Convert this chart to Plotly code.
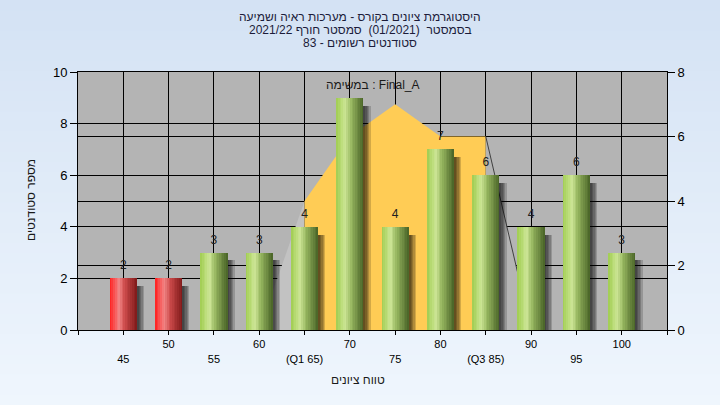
import plotly.graph_objects as go

# ---------------- data ----------------
grade_values = [45, 50, 55, 60, 65, 70, 75, 80, 85, 90, 95, 100]
grade_labels = ["45", "50", "55", "60", "(Q1 65)", "70", "75", "80", "(Q3 85)", "90", "95", "100"]
counts = [2, 2, 3, 3, 4, 9, 4, 7, 6, 4, 6, 3]
bar_labels = ["2", "2", "3", "3", "4", "", "4", "7", "6", "4", "6", "3"]
passing_grade = 55

# distribution area (right axis)
area_grades = [60, 65, 70, 75, 80, 85, 90]
area_values = [0, 4, 6, 7, 6, 6, 0]
q1, q3 = 65, 85

title_lines = [
    "היסטוגרמת ציונים בקורס - מערכות ראיה ושמיעה",
    "בסמסטר  (01/2021)  סמסטר חורף 2021/22",
    "סטודנטים רשומים - 83",
]
legend_text = "במשימה : Final_A"
x_title = "טווח ציונים"
y_title = "מספר סטודנטים"

# ---------------- style helpers ----------------
FONT = "Liberation Sans, DejaVu Sans, Arial, sans-serif"
PLOT_BG = "#b4b4b4"
ORANGE = "#ffcc55"


def interp(stops, t):
    for (t0, c0), (t1, c1) in zip(stops, stops[1:]):
        if t0 <= t <= t1:
            f = (t - t0) / (t1 - t0) if t1 > t0 else 0
            return "rgb(%d,%d,%d)" % tuple(round(a + (b - a) * f) for a, b in zip(c0, c1))
    return "rgb(%d,%d,%d)" % stops[-1][1]


green_stops = [(0, (160, 205, 80)), (0.33, (205, 230, 150)), (0.55, (150, 182, 95)), (1, (72, 98, 38))]
red_stops = [(0, (255, 28, 28)), (0.33, (242, 135, 135)), (0.55, (205, 75, 75)), (1, (125, 25, 25))]

fig = go.Figure()

# ---------------- area (right axis) ----------------
low = [(g, v) for g, v in zip(area_grades, area_values) if g <= q1]
mid = [(g, v) for g, v in zip(area_grades, area_values) if q1 <= g <= q3]
up = [(g, v) for g, v in zip(area_grades, area_values) if g >= q3]

fig.add_trace(go.Scatter(x=[p[0] for p in low], y=[p[1] for p in low], yaxis="y2",
                         mode="lines", line=dict(width=0, color="#c2c2c2"),
                         fill="tozeroy", fillcolor="#c2c2c2", hoverinfo="skip", showlegend=False))
fig.add_trace(go.Scatter(x=[p[0] for p in mid], y=[p[1] for p in mid], yaxis="y2",
                         mode="lines", line=dict(width=0, color=ORANGE),
                         fill="tozeroy", fillcolor=ORANGE, hoverinfo="skip", showlegend=False))
fig.add_trace(go.Scatter(x=[p[0] for p in up], y=[p[1] for p in up], yaxis="y2",
                         mode="lines", line=dict(width=1, color="#404040"),
                         fill="tozeroy", fillcolor=PLOT_BG, hoverinfo="skip", showlegend=False))

# ---------------- bars (left axis) ----------------
BAR_W = 3.0
shadow_tops = [c - 0.3 for c in counts]
for shift in [0.8, 0.65, 0.5, 0.35, 0.2]:
    fig.add_trace(go.Bar(x=grade_values, y=shadow_tops, yaxis="y",
                         width=BAR_W, offset=-BAR_W / 2 + shift,
                         marker=dict(color="rgba(0,0,0,0.17)", line=dict(width=0)),
                         hoverinfo="skip", showlegend=False))

N = 16
step = BAR_W / N
for i in range(N):
    t = (i + 0.5) / N
    off = -BAR_W / 2 + i * step
    w = min(step * 1.5, BAR_W / 2 - off)
    cols = [interp(red_stops if g < passing_grade else green_stops, t) for g in grade_values]
    fig.add_trace(go.Bar(x=grade_values, y=counts, yaxis="y", width=w, offset=off,
                         marker=dict(color=cols, line=dict(width=0)),
                         hoverinfo="skip", showlegend=False))

fig.add_trace(go.Scatter(x=grade_values, y=counts, yaxis="y", mode="markers+text",
                         marker=dict(size=8, color="rgba(0,0,0,0)"),
                         text=bar_labels, textposition="top center",
                         textfont=dict(family=FONT, size=12, color="#202020"),
                         cliponaxis=False, hoverinfo="skip", showlegend=False))

# ---------------- background gradient ----------------
shapes = []
NB = 40
top_c = (212, 226, 244)
bot_c = (239, 246, 253)
L, R, T, B = 78, 667, 72, 330
PW, PH = R - L, B - T
for k in range(NB):
    f = k / (NB - 1)
    c = tuple(round(a + (b - a) * f) for a, b in zip(top_c, bot_c))
    y_top = k * 405 / NB
    y_bot = (k + 1) * 405 / NB + 1
    shapes.append(dict(type="rect", xref="paper", yref="paper", layer="below",
                       x0=(0 - L) / PW, x1=(720 - L) / PW,
                       y0=(B - y_bot) / PH, y1=(B - y_top) / PH,
                       line=dict(width=0), fillcolor="rgb(%d,%d,%d)" % c))
shapes.append(dict(type="rect", xref="paper", yref="paper", layer="below",
                   x0=0, x1=1, y0=0, y1=1, line=dict(width=0), fillcolor=PLOT_BG))

# ---------------- ticks ----------------
tickvals = [40] + grade_values + [105]
ticktext = [""]
for i, lab in enumerate(grade_labels):
    ticktext.append("<br>" + lab if i % 2 == 0 else lab)
ticktext.append("")


def px_x(px):
    return (px - L) / PW


def px_y(py):
    return (B - py) / PH


annotations = []
for j, line in enumerate(title_lines):
    annotations.append(dict(text=line, xref="paper", yref="paper", x=px_x(360), y=px_y(17 + 13 * j),
                            xanchor="center", yanchor="middle", showarrow=False,
                            font=dict(family=FONT, size=12, color="#1c1c3a")))
annotations.append(dict(text=legend_text, xref="paper", yref="paper", x=px_x(373), y=px_y(85),
                        xanchor="center", yanchor="middle", showarrow=False,
                        font=dict(family=FONT, size=12, color="#1a1a1a")))
annotations.append(dict(text=x_title, xref="paper", yref="paper", x=px_x(358), y=px_y(380),
                        xanchor="center", yanchor="middle", showarrow=False,
                        font=dict(family=FONT, size=12, color="#1a1a1a")))
annotations.append(dict(text=y_title, xref="paper", yref="paper", x=px_x(31), y=px_y(200),
                        xanchor="center", yanchor="middle", showarrow=False, textangle=-90,
                        font=dict(family=FONT, size=12, color="#1a1a1a")))

axis_common = dict(showgrid=True, gridcolor="black", gridwidth=1, zeroline=False,
                   showline=True, linecolor="black", linewidth=1,
                   ticks="outside", tickcolor="black")

fig.update_layout(
    width=720, height=405,
    margin=dict(l=L, r=720 - R, t=T, b=405 - B, pad=0),
    paper_bgcolor="rgb(226,236,249)",
    plot_bgcolor="rgba(0,0,0,0)",
    barmode="overlay",
    bargap=0,
    showlegend=False,
    hovermode=False,
    shapes=shapes,
    annotations=annotations,
    font=dict(family=FONT, color="black"),
    xaxis=dict(range=[40, 105], tickmode="array", tickvals=tickvals, ticktext=ticktext,
               tickangle=0, ticklen=4, mirror=True,
               tickfont=dict(family=FONT, size=11, color="black"), **axis_common),
    yaxis=dict(range=[0, 10], tickmode="array", tickvals=[0, 2, 4, 6, 8, 10], side="left",
               overlaying="y2", ticklen=7,
               tickfont=dict(family=FONT, size=13, color="black"), **axis_common),
    yaxis2=dict(range=[0, 8], tickmode="array", tickvals=[0, 2, 4, 6, 8], side="right",
                ticklen=7, tickfont=dict(family=FONT, size=13, color="black"), **axis_common),
)

fig.write_html(
    "out.html",
    config={"displayModeBar": False, "staticPlot": True},
    post_script="document.documentElement.style.margin='0';document.body.style.margin='0';"
                "document.body.style.padding='0';document.body.style.overflow='hidden';",
)
